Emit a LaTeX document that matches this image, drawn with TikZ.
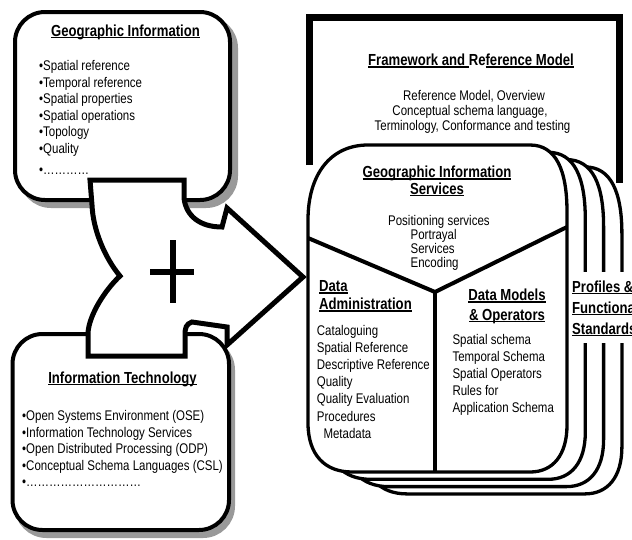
\documentclass[tikz,border=0pt]{standalone}
\usepackage{fontspec}
\setmainfont{Liberation Sans}[FakeStretch=0.82]
% underline drawn close to the baseline, running through descenders
\newcommand\ulined[1]{\setbox0\hbox{#1}\rlap{\rule[-2.2pt]{\wd0}{1.4pt}}\box0}
\begin{document}
\begin{tikzpicture}[x=1pt,y=-1pt,
  panel/.style={draw, line width=4pt, fill=white, rounded corners=30pt},
  panelshadow/.style={draw=black!40, fill=black!40, line width=4pt, rounded corners=30pt},
  frameline/.style={line width=7pt, line join=miter},
  card/.style={draw, fill=white, line width=3.3pt},
  divider/.style={line width=4pt},
  blockarrow/.style={draw, fill=white, line width=5pt, line join=miter},
  plusbar/.style={line width=6pt},
  body/.style={inner sep=0pt, font=\fontsize{14}{16.5}\selectfont},
  head/.style={inner sep=0pt, font=\fontsize{16}{19}\selectfont\bfseries}]
\useasboundingbox (0,0) rectangle (632,539);

% ---- framework frame (open at the bottom, hidden behind the cards)
\draw[frameline] (309.5,165) -- (309.5,17) -- (619,17) -- (619,183);
\node[head, anchor=base] (fwtitle) at (471,65.5) {\ulined{Framework and }Re\ulined{ference Model}};
\node[body, anchor=base] (fw1) at (474,100) {Reference Model, Overview};
\node[body, anchor=base] (fw2) at (470,115.5) {Conceptual schema language,};
\node[body, anchor=base] (fw3) at (472.5,130.5) {Terminology, Conformance and testing};

% ---- stack of service cards
\foreach \k in {3,2,1,0} {
  \begin{scope}[shift={(18.3*\k,7.3*\k)}]
    \draw[card] (308,220) -- (308,423) .. controls (308,455) and (325,472) .. (352,472)
      -- (530,472) .. controls (553,472) and (567,455) .. (567,425)
      -- (567,212) .. controls (567,170) and (556,145) .. (530,145)
      -- (368,145) .. controls (330,145) and (308,175) .. (308,220) -- cycle;
  \end{scope}
}
\draw[divider] (308,238) -- (435,292) -- (567,227);
\draw[divider] (435,292) -- (435,472);

% white band behind the profiles label
\fill[white] (570,272) rectangle (640,343);
\node[head, anchor=base west] (prof1) at (572,292) {\ulined{Profiles \&}};
\node[head, anchor=base west] (prof2) at (572,313) {\ulined{Functional}};
\node[head, anchor=base west] (prof3) at (572,334) {\ulined{Standards}};

% services card texts
\node[head, anchor=base] (gist1) at (437,177.5) {\ulined{Geographic Information}};
\node[head, anchor=base] (gist2) at (437,194) {\ulined{Services}};
\node[body, anchor=base west] (gis1) at (388,225) {Positioning services};
\node[body, anchor=base west] (gis2) at (410.5,239.5) {Portrayal};
\node[body, anchor=base west] (gis3) at (410.5,253) {Services};
\node[body, anchor=base west] (gis4) at (410.5,267.5) {Encoding};

\node[head, anchor=base west] (dat1) at (319,291.5) {\ulined{Data}};
\node[head, anchor=base west] (dat2) at (319,309.5) {\ulined{Administration}};
\foreach \t [count=\i] in {Cataloguing, Spatial Reference, Descriptive Reference, Quality, Quality Evaluation, Procedures}
  \node[body, anchor=base west] (da\i) at (316.7,{335+17.2*(\i-1)}) {\t};
\node[body, anchor=base west] (da7) at (323.3,438.2) {Metadata};

\node[head, anchor=base] (dmt1) at (507,300.5) {\ulined{Data Models}};
\node[head, anchor=base] (dmt2) at (507,320) {\ulined{\& Operators}};
\foreach \t [count=\i] in {Spatial schema, Temporal Schema, Spatial Operators, Rules for, Application Schema}
  \node[body, anchor=base west] (dm\i) at (452.3,{344+17.1*(\i-1)}) {\t};

% ---- geographic information panel
\path[panelshadow] (21,18) rectangle (236,206);
\path[panel] (15,12) rectangle (230,200);
\node[head, anchor=base] (gititle) at (125.5,36) {\ulined{Geographic Information}};
\foreach \t [count=\i] in {Spatial reference, Temporal reference, Spatial properties, Spatial operations, Topology, Quality}
  \node[body, anchor=base west] (gi\i) at (39,{70.5+16.5*(\i-1)}) {•\t};
\node[body, anchor=base west] (gimore) at (39,174) {•…………};

% ---- information technology panel
\path[panelshadow] (16.5,340) rectangle (233,536);
\path[panel] (12.5,334) rectangle (229,530);
\node[head, anchor=base] (ittitle) at (122.5,383) {\ulined{Information Technology}};
\foreach \t [count=\i] in {Open Systems Environment (OSE), Information Technology Services, Open Distributed Processing (ODP), Conceptual Schema Languages (CSL)}
  \node[body, anchor=base west] (it\i) at (22,{420.5+16.5*(\i-1)}) {•\t};
\node[body, anchor=base west] (itmore) at (22,486) {•…………………………};

% ---- joining block arrow with the plus sign
\draw[blockarrow] (90,180) -- (184,180) -- (184,198)
  .. controls (186,216) and (200,227) .. (222,227)
  -- (227,208) -- (303,277) -- (227,345) -- (227,327) -- (192,322)
  .. controls (186,324) and (185,328) .. (185,335)
  -- (185,356) -- (88,356) -- (88,333)
  .. controls (89,315) and (105,290) .. (120,276)
  .. controls (105,258) and (93,230) .. (92,205) -- cycle;
\draw[plusbar] (150,271.5) -- (194,271.5);
\draw[plusbar] (173,240) -- (173,303);
\end{tikzpicture}
\end{document}
